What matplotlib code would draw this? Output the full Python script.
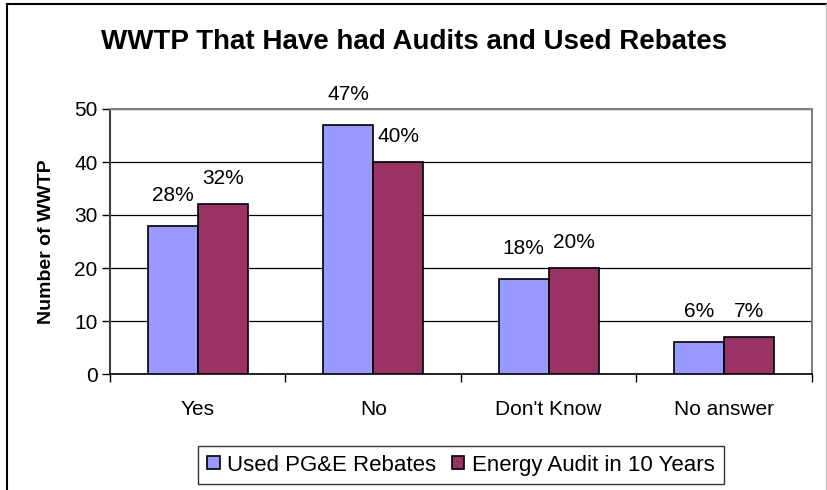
import numpy as np
import matplotlib.pyplot as plt
from matplotlib.lines import Line2D

categories = ["Yes", "No", "Don't Know", "No answer"]
rebates = [28, 47, 18, 6]
audit = [32, 40, 20, 7]
rebates_labels = ["28%", "47%", "18%", "6%"]
audit_labels = ["32%", "40%", "20%", "7%"]
series_names = ["Used PG&E Rebates", "Energy Audit in 10 Years"]

plt.rcParams['font.family'] = ['Liberation Sans', 'DejaVu Sans']

fig = plt.figure(figsize=(8.28, 4.90), dpi=100)
ax = fig.add_axes([110 / 828, 1 - 374 / 490, 702 / 828, 265 / 490])

x = np.arange(len(categories))
w = 0.285
ax.bar(x - w / 2, rebates, w, color='#9999FF', edgecolor='black', linewidth=1.2,
       label=series_names[0], zorder=3)
ax.bar(x + w / 2, audit, w, color='#993366', edgecolor='black', linewidth=1.2,
       label=series_names[1], zorder=3)

# percentage labels above bars
for i in range(len(categories)):
    ax.annotate(rebates_labels[i], (x[i] - w / 2, rebates[i]), xytext=(0, 21),
                textcoords='offset pixels', ha='center', va='bottom', fontsize=15)
    ax.annotate(audit_labels[i], (x[i] + w / 2, audit[i]), xytext=(0, 16),
                textcoords='offset pixels', ha='center', va='bottom', fontsize=15)

ax.set_xlim(-0.5, len(categories) - 0.5)
ax.set_ylim(0, 50)
ax.set_yticks(range(0, 51, 10))
ax.yaxis.grid(True, color='black', linewidth=0.9, zorder=0)
ax.tick_params(axis='y', direction='out', length=6, width=1, labelsize=15, pad=3)

# category labels centred, ticks at category boundaries
ax.set_xticks(x)
ax.set_xticklabels(categories, fontsize=15)
ax.tick_params(axis='x', which='major', length=0, pad=19)
ax.set_xticks(np.arange(-0.5, len(categories), 1), minor=True)
ax.tick_params(axis='x', which='minor', direction='out', length=6, width=1)

ax.set_ylabel("Number of WWTP", fontsize=14, fontweight='bold', labelpad=14)

for s in ['top', 'right']:
    ax.spines[s].set_color('#808080')
    ax.spines[s].set_linewidth(1.5)
ax.spines['left'].set_color('#404040')
ax.spines['left'].set_linewidth(1.5)
ax.spines['bottom'].set_linewidth(1.2)

fig.text(414 / 828, 1 - 42 / 490, "WWTP That Have had Audits and Used Rebates",
         ha='center', va='center', fontsize=20, fontweight='bold')

leg = fig.legend(loc='center', bbox_to_anchor=(461 / 828, 1 - 465 / 490), ncol=2,
                 fontsize=16, frameon=True, fancybox=False, handlelength=0.55,
                 handleheight=0.55, handletextpad=0.35, columnspacing=0.7,
                 borderpad=0.4, borderaxespad=0)
leg.get_frame().set_edgecolor('black')
leg.get_frame().set_linewidth(1)

# outer chart border
fig.add_artist(Line2D([7 / 828, 7 / 828], [0, 1 - 4 / 490], color='black', lw=1.5))
fig.add_artist(Line2D([7 / 828, 826 / 828], [1 - 4 / 490, 1 - 4 / 490], color='black', lw=1.5))
fig.add_artist(Line2D([826 / 828, 826 / 828], [0, 1 - 4 / 490], color='#c0c0c0', lw=1))

fig.savefig('out.png', dpi=100)
